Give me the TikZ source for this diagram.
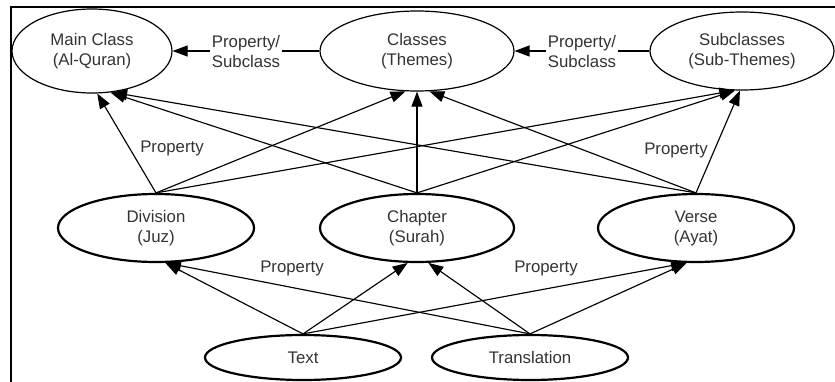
\documentclass[tikz,border=0pt]{standalone}
\usepackage{fontspec}
\setmainfont{Liberation Sans}
\usetikzlibrary{arrows.meta,shapes.geometric}
\begin{document}
\begin{tikzpicture}[x=1pt,y=1pt,
  lbl/.style={font=\fontsize{16.8}{20}\selectfont, text=black!80, align=center, inner sep=1pt},
  topell/.style={ellipse, draw, line width=1.2pt, lbl, inner sep=0pt},
  midell/.style={ellipse, draw, line width=2.2pt, lbl, inner sep=0pt},
  arr/.style={-{Triangle[length=15pt,width=11pt]}, line width=1.15pt},
  frame/.style={line width=2.4pt}]
\useasboundingbox (0,0) rectangle (835,381);
\draw[frame] (11,-2) -- (11,374) -- (837,374);
% top row
\node[topell, minimum width=160, minimum height=84] (main) at (92,330) {Main Class\\(Al-Quran)};
\node[topell, minimum width=194, minimum height=80] (classes) at (417,330) {Classes\\(Themes)};
\node[topell, minimum width=184, minimum height=78] (sub) at (742,330) {Subclasses\\(Sub-Themes)};
% middle row
\node[midell, minimum width=196, minimum height=68] (div) at (156,153) {Division\\(Juz)};
\node[midell, minimum width=194, minimum height=68] (chap) at (417,153) {Chapter\\(Surah)};
\node[midell, minimum width=196, minimum height=68] (verse) at (696,153) {Verse\\(Ayat)};
% bottom row
\node[midell, minimum width=196, minimum height=45] (text) at (303,23.5) {Text};
\node[midell, minimum width=196, minimum height=45] (trans) at (530,23.5) {Translation};
% top connectors
\draw[arr] (classes.west) -- node[lbl, fill=white, inner sep=2pt] (ps1) {Property/\\Subclass} (main.east);
\draw[arr] (sub.west) -- node[lbl, fill=white, inner sep=2pt] (ps2) {Property/\\Subclass} (classes.east);
% middle to top
\draw[arr] (div.north) -- (main.-83);
\draw[arr] (div.north) -- (classes.-106);
\draw[arr] (div.north) -- (sub.-101);
\draw[arr] (chap.north) -- (main.-66);
\draw[arr] (chap.north) -- (classes.south);
\draw[arr] (chap.north) -- (sub.-100);
\draw[arr] (verse.north) -- (main.-64);
\draw[arr] (verse.north) -- (classes.-73);
\draw[arr] (verse.north) -- (sub.-93);
% bottom to middle
\draw[arr] (text.north) -- (div.-75);
\draw[arr] (text.north) -- (chap.-105);
\draw[arr] (text.north) -- (verse.-106);
\draw[arr] (trans.north) -- (div.-74);
\draw[arr] (trans.north) -- (chap.-72);
\draw[arr] (trans.north) -- (verse.-105);
% labels
\node[lbl] (p1) at (172,233) {Property};
\node[lbl] (p2) at (676,231) {Property};
\node[lbl] (p3) at (292,113) {Property};
\node[lbl] (p4) at (546,113) {Property};
\end{tikzpicture}
\end{document}
